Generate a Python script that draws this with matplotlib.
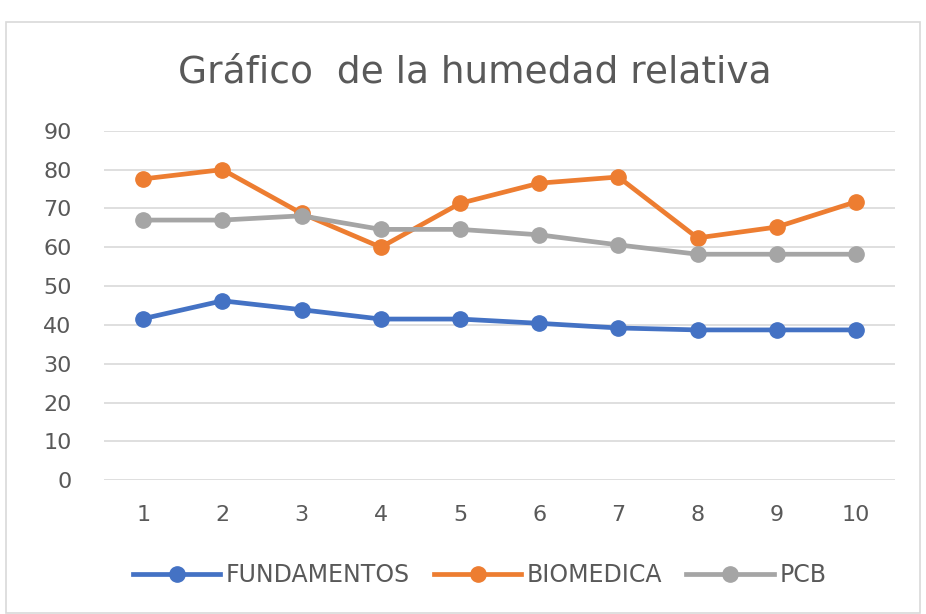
import matplotlib.pyplot as plt
from matplotlib.patches import Rectangle

plt.rcParams['font.family'] = ['DejaVu Sans']

# Datos
x = [1, 2, 3, 4, 5, 6, 7, 8, 9, 10]
fundamentos = [41.6, 46.2, 43.9, 41.5, 41.5, 40.4, 39.2, 38.7, 38.7, 38.7]
biomedica = [77.6, 80.0, 68.7, 60.0, 71.3, 76.5, 78.1, 62.4, 65.2, 71.7]
pcb = [67.0, 67.0, 68.1, 64.6, 64.6, 63.2, 60.6, 58.2, 58.2, 58.2]
yticks = [0, 10, 20, 30, 40, 50, 60, 70, 80, 90]

fig = plt.figure(figsize=(9.26, 6.14), dpi=100)
fig.patches.append(Rectangle((6 / 926, 1 / 614), 914 / 926, 591 / 614,
                             transform=fig.transFigure, fill=False,
                             edgecolor='#D9D9D9', linewidth=1.2))

ax = fig.add_axes([0.112, 0.218, 0.855, 0.569])

ax.plot(x, fundamentos, color='#4472C4', marker='o', lw=3.4, ms=11, label='FUNDAMENTOS')
ax.plot(x, biomedica, color='#ED7D31', marker='o', lw=3.4, ms=11, label='BIOMEDICA')
ax.plot(x, pcb, color='#A5A5A5', marker='o', lw=3.4, ms=11, label='PCB')

ax.set_xlim(0.5, 10.5)
ax.set_ylim(0, 90)
ax.set_xticks(x)
ax.set_yticks(yticks)
ax.tick_params(length=0, labelsize=16, labelcolor='#595959')
ax.tick_params(axis='x', pad=18)
ax.tick_params(axis='y', pad=23)
ax.yaxis.grid(True, color='#D9D9D9', lw=1.2)
ax.set_axisbelow(True)
for s in ax.spines.values():
    s.set_visible(False)

fig.text(0.513, 0.882, 'Gráfico  de la humedad relativa', ha='center', va='center',
         fontsize=27, color='#595959')

fig.legend(loc='center', bbox_to_anchor=(0.518, 0.063), ncol=3, frameon=False,
           fontsize=17, labelcolor='#595959', handlelength=3.7, handletextpad=0.25,
           columnspacing=1.0)

fig.savefig('out.png', dpi=100)
